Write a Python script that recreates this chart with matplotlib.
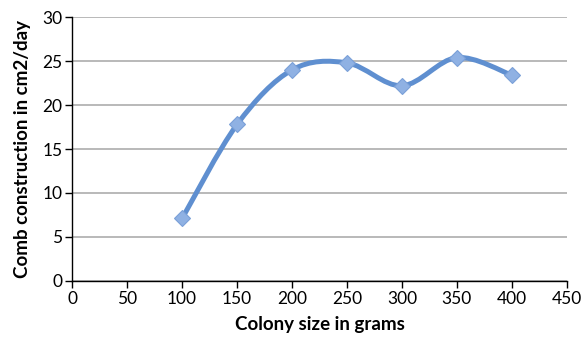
import numpy as np
import matplotlib.pyplot as plt
from matplotlib.path import Path
from matplotlib.patches import PathPatch

colony = [100, 150, 200, 250, 300, 350, 400]
comb = [7.1, 17.8, 24.0, 24.8, 22.2, 25.4, 23.4]
xticks = [0, 50, 100, 150, 200, 250, 300, 350, 400, 450]
yticks = [0, 5, 10, 15, 20, 25, 30]

plt.rcParams['font.family'] = ['Lato', 'DejaVu Sans']


def smooth_path(x, y):
    # Excel-style smoothed line as cubic Bezier segments
    p = np.column_stack([x, y]).astype(float)
    n = len(p)
    verts = [p[0]]
    codes = [Path.MOVETO]
    for i in range(n - 1):
        p0 = p[i - 1] if i > 0 else p[i]
        p3 = p[i + 2] if i + 2 < n else p[i + 1]
        c1 = p[i] + (p[i + 1] - p0) / 6
        c2 = p[i + 1] - (p3 - p[i]) / 6
        verts += [c1, c2, p[i + 1]]
        codes += [Path.CURVE4] * 3
    return Path(verts, codes)


fig = plt.figure(figsize=(5.82, 3.43), dpi=100)
ax = fig.add_axes([0.124, 0.181, 0.850, 0.769])

ax.add_patch(PathPatch(smooth_path(colony, comb), facecolor='none',
                       edgecolor='#5f8fd0', lw=3.6, zorder=3,
                       capstyle='round', joinstyle='round'))
ax.plot(colony, comb, ls='none', marker='D', ms=8.5, mfc='#8fb1e3',
        mec='#7aa0d8', mew=0.8, zorder=4)

ax.set_xlim(0, 450)
ax.set_ylim(0, 30)
ax.set_xticks(xticks)
ax.set_yticks(yticks)
ax.yaxis.grid(True, color='#a6a6a6', lw=1.1)
ax.set_axisbelow(True)
for s in ['top', 'right']:
    ax.spines[s].set_visible(False)
for s in ['left', 'bottom']:
    ax.spines[s].set_color('black')
    ax.spines[s].set_linewidth(1.0)
ax.tick_params(direction='out', length=5, width=1, labelsize=12.5, pad=2)

ax.set_xlabel('Colony size in grams', fontsize=13.5, fontweight='bold', labelpad=7)
ax.set_ylabel('Comb construction in cm2/day', fontsize=13.5, fontweight='bold', labelpad=8)

fig.savefig('out.png', dpi=100)
